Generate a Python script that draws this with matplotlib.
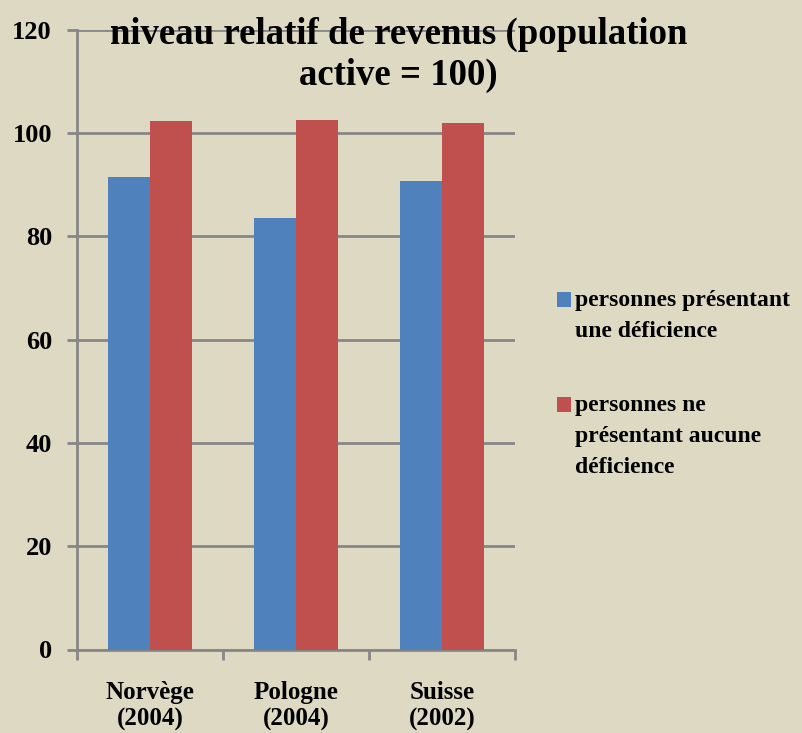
import numpy as np
import matplotlib
matplotlib.use("Agg")
import matplotlib.pyplot as plt
from matplotlib.patches import Rectangle

CATEGORIES = ["Norvège\n(2004)", "Pologne\n(2004)", "Suisse\n(2002)"]
SERIES_NAMES = ["personnes présentant\nune déficience",
                "personnes ne\nprésentant aucune\ndéficience"]
WITH_DEF = [91.5, 83.5, 90.6]
WITHOUT_DEF = [102.2, 102.5, 101.9]
YTICKS = [0, 20, 40, 60, 80, 100, 120]

BG = "#ddd9c3"
BLUE = "#4f81bd"
RED = "#c0504d"
GRID = "#878787"
SERIF = "Liberation Serif"

W, H = 803, 733
fig = plt.figure(figsize=(W / 100, H / 100), dpi=100, facecolor=BG)
ax = fig.add_axes([77 / W, 1 - 649.5 / H, (515 - 77) / W, (649.5 - 29.5) / H], facecolor=BG)

x = np.arange(len(CATEGORIES))
w = 0.29
ax.bar(x - w / 2, WITH_DEF, w, color=BLUE, zorder=3)
ax.bar(x + w / 2, WITHOUT_DEF, w, color=RED, zorder=3)

ax.set_xlim(-0.5, len(CATEGORIES) - 0.5)
ax.set_ylim(0, 120)
ax.set_yticks(YTICKS)
ax.set_yticklabels([str(v) for v in YTICKS], fontfamily=SERIF, fontweight="bold", fontsize=19)
ax.yaxis.grid(True, color=GRID, lw=2, zorder=0)
ax.set_axisbelow(True)

ax.set_xticks(x)
ax.set_xticklabels(CATEGORIES, fontfamily=SERIF, fontweight="bold", fontsize=18)
for lbl in ax.get_xticklabels():
    lbl.set_linespacing(1.15)
ax.tick_params(axis="x", length=0, pad=23)
ax.set_xticks(np.arange(-0.5, len(CATEGORIES)), minor=True)
ax.tick_params(axis="x", which="minor", length=7, width=2, color=GRID, direction="out")
ax.tick_params(axis="y", length=7, width=2, color=GRID, pad=11)

for side in ["top", "right"]:
    ax.spines[side].set_visible(False)
for side in ["left", "bottom"]:
    ax.spines[side].set_color(GRID)
    ax.spines[side].set_linewidth(2)

fig.text(0.496, 1 - 17 / H, "niveau relatif de revenus (population\nactive = 100)",
         ha="center", va="top", fontfamily=SERIF, fontweight="bold", fontsize=26.5,
         linespacing=1.22)

# legend drawn by hand: Excel puts the swatch next to the first text line
for (ytop, name, color) in [(292, SERIES_NAMES[0], BLUE), (397, SERIES_NAMES[1], RED)]:
    fig.patches.append(Rectangle((557 / W, 1 - (ytop + 15) / H), 14 / W, 15 / H,
                                 transform=fig.transFigure, facecolor=color,
                                 edgecolor="none"))
    fig.text(575 / W, 1 - (ytop - 2) / H, name, ha="left", va="top",
             fontfamily=SERIF, fontweight="bold", fontsize=17, linespacing=1.62)

fig.savefig("out.png", dpi=100, facecolor=BG)
